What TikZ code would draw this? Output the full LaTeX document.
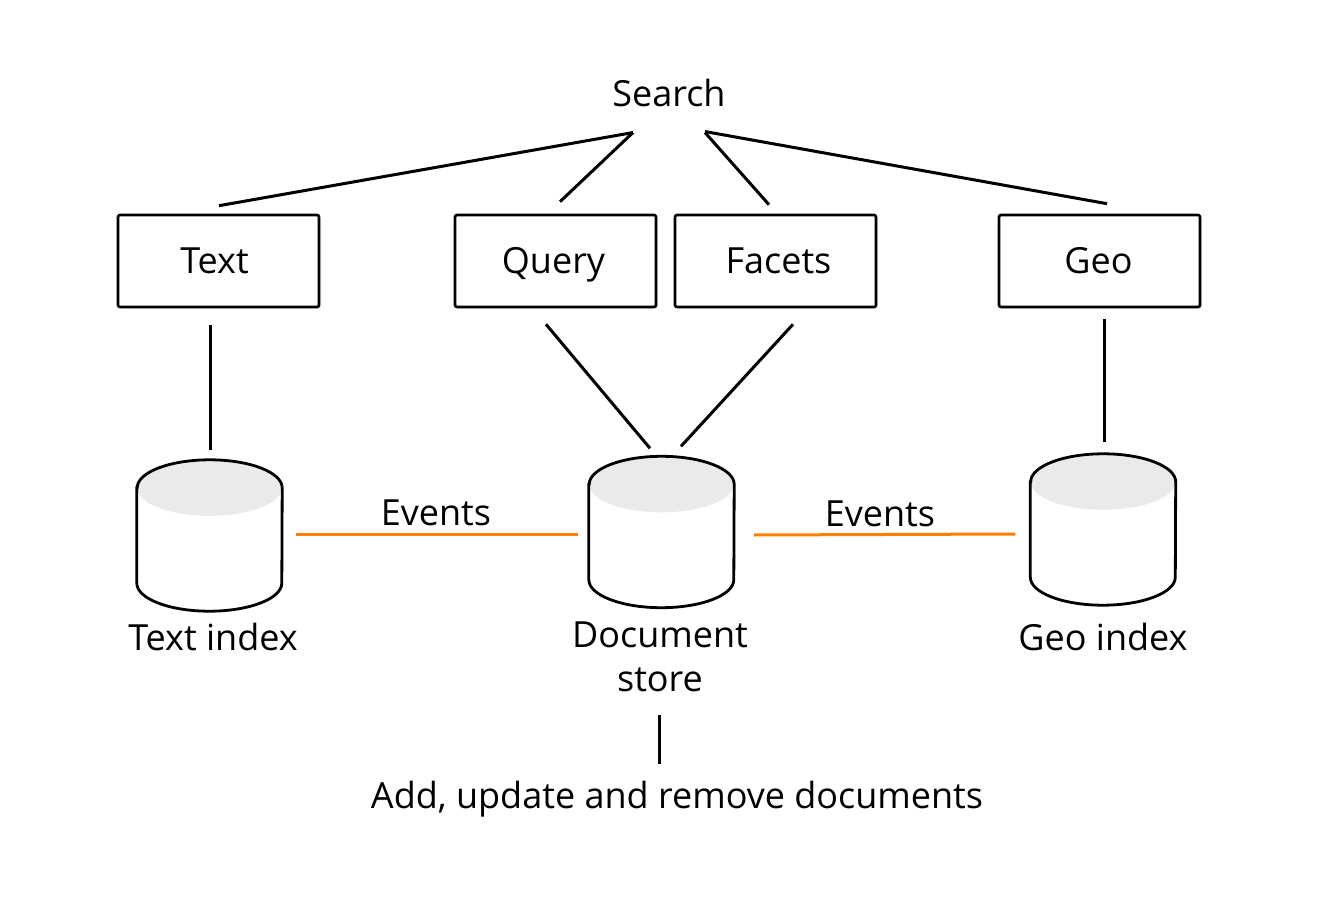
\documentclass[tikz,border=0pt]{standalone}
\usepackage{fontspec}
\setmainfont{Open Sans}
\usetikzlibrary{calc,shadows}
\definecolor{evorange}{RGB}{255,128,0}
\definecolor{cyltop}{RGB}{234,234,234}
\tikzset{
  box/.style={draw, line width=2.6pt, rounded corners=2pt, minimum width=201pt, minimum height=92pt,
    fill=white, font=\fontsize{36}{44}\selectfont, inner sep=0pt, text height=26pt, text depth=0pt,
    drop shadow={shadow xshift=2pt, shadow yshift=-2pt, opacity=0.12}},
  lbl/.style={font=\fontsize{36}{44}\selectfont, inner sep=0pt, align=center},
  conn/.style={line width=3pt},
  ev/.style={line width=3pt, evorange},
  cylbox/.style={minimum width=145pt, minimum height=151pt, inner sep=0pt},
  cylline/.style={line width=2.8pt},
}
\newcommand\dbcyl[4]{%
  \node[cylbox] (#1) at (#2,{-(#3+#4)/2}) {};
  \fill[white] ($(#1.north west)+(0,-28)$) -- ($(#1.south west)+(0,28)$)
    arc[start angle=180,end angle=360,x radius=72.5pt,y radius=28pt]
    -- ($(#1.north east)+(0,-28)$)
    arc[start angle=0,end angle=180,x radius=72.5pt,y radius=28pt] -- cycle;
  \fill[cyltop] ($(#1.north)+(0,-28)$) ellipse[x radius=72.5pt,y radius=28pt];
  \draw[cylline] ($(#1.north west)+(0,-28)$) -- ($(#1.south west)+(0,28)$)
    arc[start angle=180,end angle=360,x radius=72.5pt,y radius=28pt]
    -- ($(#1.north east)+(0,-28)$)
    arc[start angle=0,end angle=180,x radius=72.5pt,y radius=28pt] -- cycle;
}
\begin{document}
\begin{tikzpicture}[x=1pt,y=1pt]
\useasboundingbox (0,0) rectangle (1317,-917);

\node[lbl, anchor=base] (search) at (669,-107) {Search};

\node[box] (text) at (218.5,-261) {\hspace*{-8pt}Text};
\node[box] (query) at (555.5,-261) {\hspace*{-4pt}Query};
\node[box] (facets) at (775.5,-261) {\hspace*{6pt}Facets};
\node[box] (geo) at (1099.5,-261) {\hspace*{-2pt}Geo};

\dbcyl{ti}{209.5}{460}{611}
\dbcyl{doc}{661.5}{456}{608}
\dbcyl{gi}{1103}{454}{605}

\node[lbl, anchor=base] (tilbl) at (213,-650) {Text index};
\node[lbl, anchor=north] (doclbl) at (660,-622) {Document\\store};
\node[lbl, anchor=base] (gilbl) at (1103,-650) {Geo index};
\node[lbl, anchor=base] (ev1) at (436,-525) {Events};
\node[lbl, anchor=base] (ev2) at (880,-526) {Events};
\node[lbl, anchor=base] (add) at (677,-808) {Add, update and remove documents};

% search to boxes
\draw[conn] ($(search.south)+(-36,-25)$) -- ($(text.north)+(0.5,8)$);
\draw[conn] ($(search.south)+(-36,-25)$) -- ($(query.north)+(4.5,12)$);
\draw[conn] ($(search.south)+(36,-25)$) -- ($(facets.north)+(-6.5,9)$);
\draw[conn] ($(search.south)+(36,-24)$) -- ($(geo.north)+(7.5,10)$);

% boxes to stores
\draw[conn] ($(text.south)+(-8.5,-17)$) -- ($(ti.north)+(0.5,10)$);
\draw[conn] ($(query.south)+(-9.5,-16)$) -- ($(doc.north)+(-11.5,8)$);
\draw[conn] ($(facets.south)+(17.5,-16)$) -- ($(doc.north)+(19.5,10)$);
\draw[conn] ($(geo.south)+(4.5,-11)$) -- ($(gi.north)+(1,12)$);

% events
\draw[ev] ($(ti.east)+(14,1.5)$) -- ($(doc.west)+(-11,-2)$);
\draw[ev] ($(doc.east)+(20,-3)$) -- ($(gi.west)+(-15,-4.5)$);

% bottom
\draw[conn] ($(doclbl.south)+(-1,-23)$) -- ($(add.north)+(-18,16)$);
\end{tikzpicture}
\end{document}
